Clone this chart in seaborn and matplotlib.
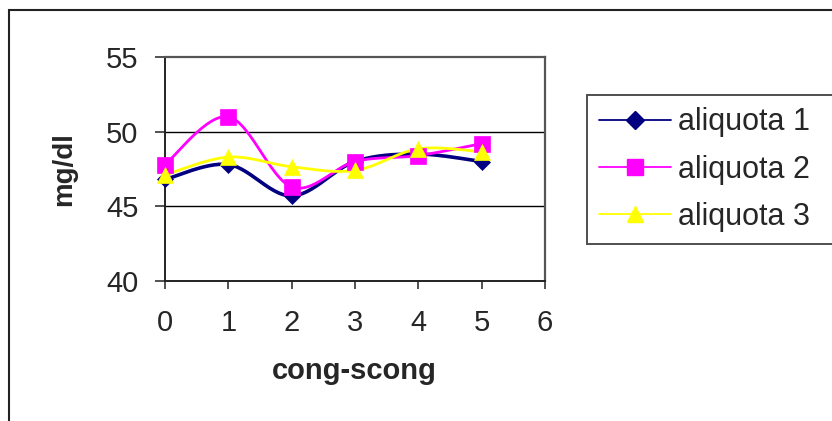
import numpy as np
import pandas as pd
import matplotlib
matplotlib.use("Agg")
import matplotlib.pyplot as plt
from matplotlib.lines import Line2D
from matplotlib.patches import Rectangle
import seaborn as sns

# Measurements per freeze-thaw cycle (mg/dl)
cycles = [0, 1, 2, 3, 4, 5]
aliquota_1 = [46.8, 47.8, 45.7, 48.0, 48.5, 48.0]
aliquota_2 = [47.8, 51.0, 46.3, 48.0, 48.4, 49.2]
aliquota_3 = [47.1, 48.3, 47.65, 47.4, 48.85, 48.65]
series_names = ["aliquota 1", "aliquota 2", "aliquota 3"]
y_ticks = [40, 45, 50, 55]
x_ticks = [0, 1, 2, 3, 4, 5, 6]

colors = ["#000080", "#FF00FF", "#FFFF00"]
markers = ["D", "s", "^"]
marker_sizes = [8, 12, 12]
line_widths = [2.6, 2.0, 2.0]

sns.set_style("white")
plt.rcParams["font.family"] = ["Liberation Sans", "DejaVu Sans"]


def smooth_curve(xs, ys, n=30):
    """Cubic Bezier smoothing through every point (Catmull-Rom style tangents)."""
    p = np.column_stack([xs, ys]).astype(float)
    ext = np.vstack([p[0], p, p[-1]])
    t = np.linspace(0, 1, n)[:, None]
    parts = []
    for i in range(len(p) - 1):
        p0, p1, p2, p3 = ext[i], ext[i + 1], ext[i + 2], ext[i + 3]
        c1 = p1 + (p2 - p0) / 6.0
        c2 = p2 - (p3 - p1) / 6.0
        seg = ((1 - t) ** 3) * p1 + 3 * ((1 - t) ** 2) * t * c1 \
            + 3 * (1 - t) * (t ** 2) * c2 + (t ** 3) * p2
        parts.append(seg if i == 0 else seg[1:])
    return np.vstack(parts)


W, H = 832, 421
fig = plt.figure(figsize=(W / 100, H / 100), dpi=100)
ax = fig.add_axes([165 / W, 1 - 281 / H, 380 / W, 224 / H])

values = [aliquota_1, aliquota_2, aliquota_3]
for name, vals, col, mk, ms, lw in zip(series_names, values, colors, markers,
                                       marker_sizes, line_widths):
    curve = smooth_curve(cycles, vals)
    df_curve = pd.DataFrame({"x": curve[:, 0], "y": curve[:, 1]})
    sns.lineplot(data=df_curve, x="x", y="y", sort=False, estimator=None,
                 color=col, linewidth=lw, ax=ax, zorder=3)
    ax.plot(cycles, vals, linestyle="none", marker=mk, markersize=ms,
            markerfacecolor=col, markeredgecolor=col, markeredgewidth=0.5,
            zorder=4, clip_on=False)

ax.set_xlim(0, 6)
ax.set_ylim(40, 55)
ax.set_xticks(x_ticks)
ax.set_yticks(y_ticks)
ax.set_xticklabels([str(v) for v in x_ticks], fontsize=21)
ax.set_yticklabels([str(v) for v in y_ticks], fontsize=21)

for yv in [45, 50]:
    ax.axhline(yv, color="black", linewidth=1.0, zorder=1)

ax.tick_params(axis="y", direction="out", length=7, width=1.2, color="#333333",
               pad=12, left=True)
ax.tick_params(axis="x", direction="out", length=6, width=1.2, color="#333333",
               pad=14.5, bottom=True)

for side in ["left", "bottom"]:
    ax.spines[side].set_color("#222222")
    ax.spines[side].set_linewidth(1.4)
for side in ["top", "right"]:
    ax.spines[side].set_visible(True)
    ax.spines[side].set_color("#555555")
    ax.spines[side].set_linewidth(1.6)

ax.set_xlabel("cong-scong", fontsize=21, fontweight="bold")
ax.set_ylabel("mg/dl", fontsize=20, fontweight="bold")
ax.xaxis.set_label_coords((354 - 165) / 380, -(357 - 281) / 224)
ax.yaxis.set_label_coords((77 - 165) / 380, (281 - 169) / 224)

handles = [
    Line2D([0], [0], color=col, linewidth=1.3, marker=mk,
           markersize=(ms if mk != "D" else 9), markerfacecolor=col,
           markeredgecolor=col)
    for col, mk, ms in zip(colors, markers, marker_sizes)
]
leg = fig.legend(handles=handles, labels=series_names, loc="upper left",
                 bbox_to_anchor=(587 / W, 1 - 95 / H - 0.6, 0.4, 0.6),
                 bbox_transform=fig.transFigure, mode="expand",
                 borderaxespad=0, fontsize=22, frameon=True, fancybox=False,
                 handlelength=2.35, handletextpad=0.23, borderpad=0.4,
                 labelspacing=0.57)
leg.get_frame().set_edgecolor("#222222")
leg.get_frame().set_linewidth(1.4)

# outer chart border
fig.patches.append(Rectangle((8.5 / W, -0.2), 1.3, 1.2 - 10 / H,
                             transform=fig.transFigure, fill=False,
                             edgecolor="#222222", linewidth=1.5))

fig.savefig("out.png", dpi=100)
